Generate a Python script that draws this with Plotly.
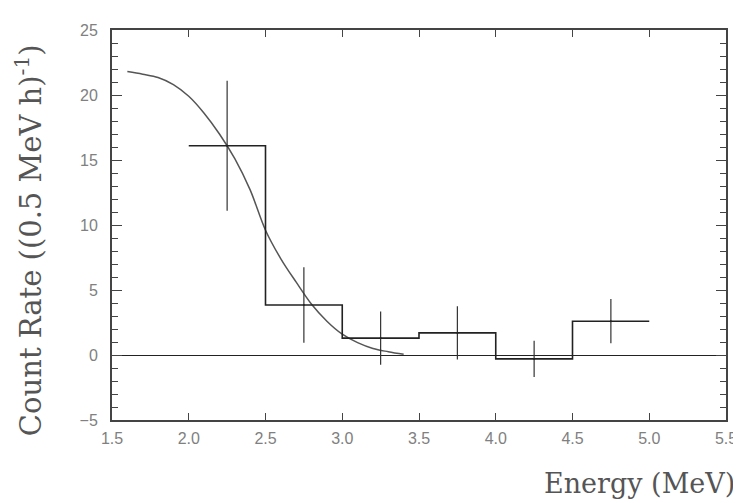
import plotly.graph_objects as go

# Histogram bins (MeV) and count rates
bin_edges = [2.0, 2.5, 3.0, 3.5, 4.0, 4.5, 5.0]
bin_centers = [2.25, 2.75, 3.25, 3.75, 4.25, 4.75]
rates = [16.1, 3.85, 1.3, 1.7, -0.3, 2.6]
rate_err = [5.0, 2.9, 2.05, 2.05, 1.4, 1.7]

# Fitted model curve
curve_x = [1.6, 1.7, 1.8, 1.9, 2.0, 2.1, 2.2, 2.3, 2.4, 2.5, 2.6, 2.7, 2.8, 2.9, 3.0, 3.1, 3.2, 3.3, 3.4]
curve_y = [21.8, 21.6, 21.35, 20.8, 19.9, 18.6, 17.0, 15.1, 12.7, 9.6, 7.4, 5.6, 3.9, 2.6, 1.6, 0.95, 0.5, 0.25, 0.05]

x_ticks = [1.5, 2.0, 2.5, 3.0, 3.5, 4.0, 4.5, 5.0, 5.5]
x_tick_labels = ["1.5", "2.0", "2.5", "3.0", "3.5", "4.0", "4.5", "5.0", "5.5"]
y_ticks = [-5, 0, 5, 10, 15, 20, 25]

fig = go.Figure()

fig.add_trace(go.Scatter(
    x=curve_x, y=curve_y, mode="lines", line_shape="spline",
    line=dict(color="#555555", width=1.5),
    showlegend=False,
))

fig.add_trace(go.Scatter(
    x=bin_edges, y=rates + [rates[-1]], mode="lines",
    line=dict(color="#222222", width=1.6, shape="hv"),
    showlegend=False,
))

fig.add_trace(go.Scatter(
    x=bin_centers, y=rates, mode="markers",
    marker=dict(size=2, color="#222222"),
    error_y=dict(type="data", array=rate_err, visible=True, width=0,
                 thickness=1.2, color="#333333"),
    showlegend=False,
))

tick_font = dict(family="Liberation Sans", size=16, color="#808080")
title_font = dict(family="DejaVu Serif", size=27, color="#555555")
ytitle_font = dict(family="DejaVu Serif", size=29, color="#555555")

fig.update_layout(
    width=733, height=495,
    margin=dict(l=104, r=15, t=22, b=83),
    paper_bgcolor="white", plot_bgcolor="white",
    xaxis=dict(
        range=[1.5, 5.5], tickvals=x_ticks, ticktext=x_tick_labels,
        ticks="inside", ticklen=7, tickwidth=1, tickcolor="#444444",
        showline=True, linecolor="#444444", linewidth=2, mirror="allticks",
        showgrid=False, zeroline=False, tickfont=tick_font,
        ticklabelstandoff=3, automargin=False,
    ),
    yaxis=dict(
        range=[-5, 25], tickvals=y_ticks,
        ticks="inside", ticklen=10, tickwidth=1.2, tickcolor="#444444",
        minor=dict(dtick=1, ticks="inside", ticklen=6, tickwidth=1.2, tickcolor="#444444"),
        showline=True, linecolor="#444444", linewidth=2, mirror="allticks",
        showgrid=False, zeroline=True, zerolinecolor="#222222", zerolinewidth=1.3,
        tickfont=tick_font, ticklabelstandoff=9, automargin=False,
    ),
    annotations=[
        dict(text="Energy (MeV)", xref="paper", yref="paper",
             x=1.0175, y=-0.164, xanchor="right", yanchor="middle",
             showarrow=False, font=title_font),
        dict(text="Count Rate ((0.5 MeV h)<sup>-1</sup>)", xref="paper", yref="paper",
             x=-0.135, y=0.4615, xanchor="center", yanchor="middle", textangle=-90,
             showarrow=False, font=ytitle_font),
    ],
)

fig.write_html("out.html")
